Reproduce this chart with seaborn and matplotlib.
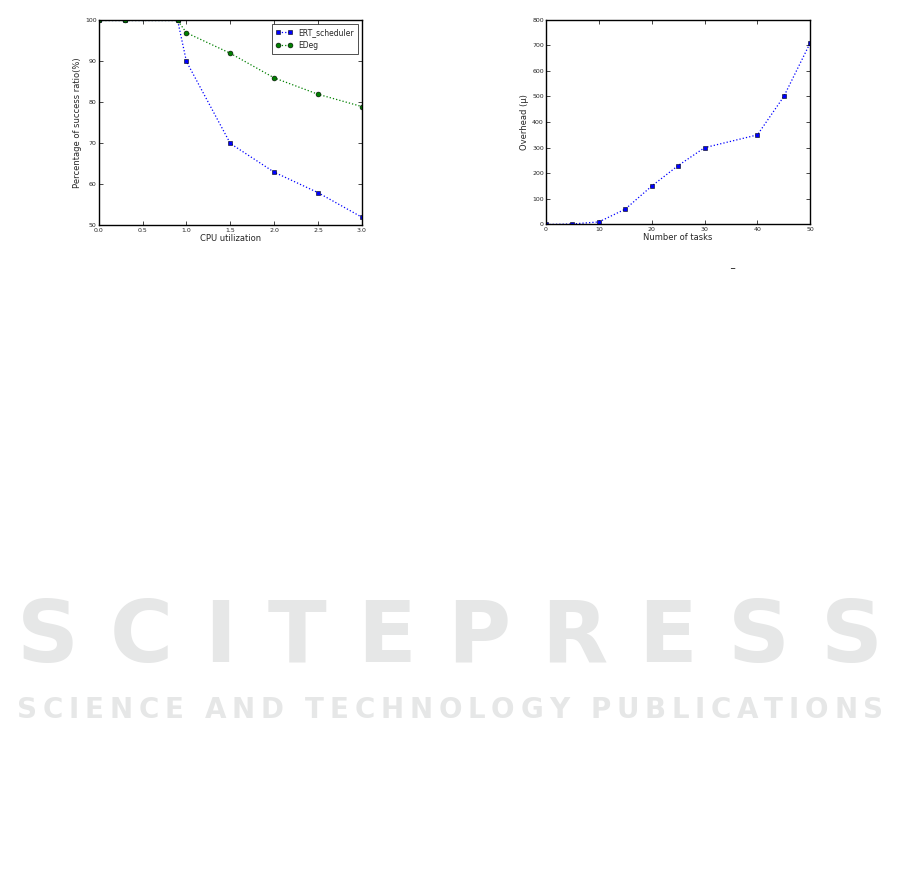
import matplotlib
matplotlib.use('Agg')
import matplotlib.pyplot as plt
import seaborn as sns
import pandas as pd

# data
cpu_util = [0.0, 0.3, 0.9, 1.0, 1.5, 2.0, 2.5, 3.0]
ert_success = [100, 100, 100, 90, 70, 63, 58, 52]
edeg_success = [100, 100, 100, 97, 92, 86, 82, 79]

n_tasks = [0, 5, 10, 15, 20, 25, 30, 40, 45, 50]
overhead = [0, 2, 10, 60, 150, 230, 300, 350, 500, 710]

left_xticks = [0.0, 0.5, 1.0, 1.5, 2.0, 2.5, 3.0]
left_yticks = [50, 60, 70, 80, 90, 100]
right_xticks = [0, 10, 20, 30, 40, 50]
right_yticks = [0, 100, 200, 300, 400, 500, 600, 700, 800]

sns.set_style('ticks')
plt.rcParams['font.family'] = ['DejaVu Sans']
plt.rcParams['xtick.direction'] = 'in'
plt.rcParams['ytick.direction'] = 'in'
plt.rcParams['xtick.top'] = True
plt.rcParams['ytick.right'] = True
plt.rcParams['axes.edgecolor'] = 'black'
plt.rcParams['axes.linewidth'] = 1.0

W, H = 901, 894
fig = plt.figure(figsize=(W / 100, H / 100), dpi=100)
ax1 = fig.add_axes([0.1095, 0.7478, 0.2922, 0.2293])
ax2 = fig.add_axes([0.606, 0.7489, 0.2933, 0.2291])

df1 = pd.DataFrame({'u': cpu_util, 'ert': ert_success, 'edeg': edeg_success})
line_kw = dict(linestyle=':', linewidth=0.9, markersize=3.5, markeredgecolor='black',
               markeredgewidth=0.4)
sns.lineplot(data=df1, x='u', y='ert', ax=ax1, color='blue', marker='s',
             label='ERT_scheduler', **line_kw)
sns.lineplot(data=df1, x='u', y='edeg', ax=ax1, color='green', marker='o',
             label='EDeg', **line_kw)
ax1.set_xlim(0, 3)
ax1.set_ylim(50, 100)
ax1.set_xticks(left_xticks)
ax1.set_xticklabels([f'{t:.1f}' for t in left_xticks])
ax1.set_yticks(left_yticks)
ax1.set_xlabel('CPU utilization', fontsize=6, labelpad=1)
ax1.set_ylabel('Percentage of success ratio(%)', fontsize=6, labelpad=2)
ax1.tick_params(labelsize=4.5, length=3, width=0.6, pad=1.5)
leg = ax1.legend(loc='upper right', fontsize=5.5, numpoints=2, fancybox=False,
                 frameon=True, handlelength=2.2, borderpad=0.5)
leg.get_frame().set_edgecolor('black')
leg.get_frame().set_linewidth(0.6)

df2 = pd.DataFrame({'n': n_tasks, 'o': overhead})
sns.lineplot(data=df2, x='n', y='o', ax=ax2, color='blue', marker='s', **line_kw)
ax2.set_xlim(0, 50)
ax2.set_ylim(0, 800)
ax2.set_xticks(right_xticks)
ax2.set_yticks(right_yticks)
ax2.set_xlabel('Number of tasks', fontsize=6, labelpad=1)
ax2.set_ylabel('Overhead (\u00b5)', fontsize=6, labelpad=2)
ax2.tick_params(labelsize=4.5, length=3, width=0.6, pad=1.5)

for ax in (ax1, ax2):
    for s in ax.spines.values():
        s.set_visible(True)
        s.set_linewidth(1.0)

# stray mark under the right panel
fig.text(0.8125, 1 - 269 / 894, '_', fontsize=6, ha='center', va='bottom', color='black')


# publisher watermark, letters spread across the page width
def spread_text(s, x0, x1, baseline, size):
    renderer = fig.canvas.get_renderer()
    texts, widths = [], []
    for ch in s:
        t = fig.text(0, 1 - baseline / H, ch, fontsize=size, fontweight='bold',
                     color='#e6e7e7', ha='left', va='baseline', zorder=0)
        w = size * 100 / 72 * 0.35 if ch == ' ' else t.get_window_extent(renderer).width
        texts.append(t)
        widths.append(w)
    gap = (x1 - x0 - sum(widths)) / (len(s) - 1)
    x = x0
    for t, w in zip(texts, widths):
        t.set_x(x / W)
        x += w + gap


spread_text('SCITEPRESS', 17, 883, 662, 62)
spread_text('SCIENCE AND TECHNOLOGY PUBLICATIONS', 17, 883, 718, 20)

fig.savefig('out.png', dpi=100)
